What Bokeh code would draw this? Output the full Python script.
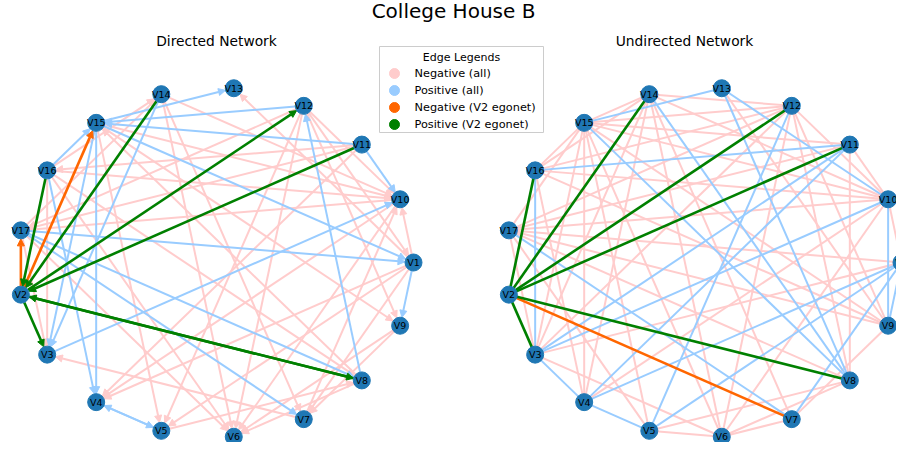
import math
from bokeh.plotting import figure
from bokeh.models import Range1d, Arrow, NormalHead, ColumnDataSource, Label
from bokeh.core.properties import value
from bokeh.embed import file_html
from bokeh.resources import INLINE

# ---------------- data ----------------
nodes = sorted([f"V{i}" for i in range(1, 18)])

# Directed network (source, target)
dir_positive = [("V15", "V13"), ("V12", "V15"), ("V11", "V15"), ("V11", "V10"), ("V16", "V15"),
                ("V15", "V4"), ("V15", "V3"), ("V14", "V3"), ("V16", "V4"), ("V17", "V1"),
                ("V15", "V1"), ("V17", "V8"), ("V17", "V7"), ("V3", "V10"), ("V8", "V12"),
                ("V1", "V9"), ("V4", "V5"), ("V5", "V4")]
dir_negative = [("V15", "V10"), ("V14", "V10"), ("V12", "V10"), ("V16", "V10"), ("V1", "V10"),
                ("V7", "V10"), ("V12", "V9"), ("V12", "V1"), ("V8", "V15"), ("V15", "V9"),
                ("V14", "V7"), ("V14", "V6"), ("V16", "V8"), ("V15", "V5"), ("V16", "V6"),
                ("V17", "V6"), ("V1", "V4"), ("V1", "V5"), ("V10", "V4"), ("V11", "V4"),
                ("V12", "V5"), ("V12", "V6"), ("V8", "V6"), ("V9", "V6"), ("V1", "V7"),
                ("V9", "V7"), ("V5", "V8"), ("V7", "V3"), ("V11", "V16"), ("V12", "V17"),
                ("V10", "V17"), ("V16", "V3"), ("V17", "V3"), ("V16", "V14"), ("V17", "V14"),
                ("V1", "V13"), ("V11", "V17"), ("V10", "V6")]
dir_ego_positive = [("V14", "V2"), ("V2", "V12"), ("V11", "V2"), ("V2", "V8"), ("V8", "V2"),
                    ("V2", "V3"), ("V16", "V2")]
dir_ego_negative = [("V2", "V15"), ("V2", "V17")]

# Undirected network
und_positive = [("V15", "V13"), ("V16", "V11"), ("V16", "V3"), ("V15", "V8"), ("V14", "V8"),
                ("V13", "V8"), ("V13", "V10"), ("V12", "V5"), ("V11", "V4"), ("V11", "V3"),
                ("V10", "V9"), ("V1", "V9"), ("V1", "V4"), ("V1", "V5"), ("V1", "V7"),
                ("V17", "V7"), ("V3", "V10"), ("V3", "V4"), ("V4", "V5")]
und_negative = [("V15", "V14"), ("V16", "V14"), ("V16", "V15"), ("V17", "V15"), ("V15", "V12"),
                ("V15", "V11"), ("V15", "V10"), ("V15", "V9"), ("V15", "V3"), ("V15", "V4"),
                ("V15", "V5"), ("V15", "V6"), ("V14", "V10"), ("V14", "V6"), ("V14", "V7"),
                ("V14", "V3"), ("V14", "V4"), ("V14", "V12"), ("V13", "V9"), ("V12", "V16"),
                ("V12", "V17"), ("V12", "V10"), ("V12", "V9"), ("V12", "V8"), ("V12", "V6"),
                ("V12", "V3"), ("V11", "V10"), ("V11", "V17"), ("V11", "V8"), ("V10", "V17"),
                ("V10", "V4"), ("V10", "V6"), ("V10", "V1"), ("V10", "V16"), ("V1", "V17"),
                ("V1", "V3"), ("V9", "V17"), ("V9", "V7"), ("V9", "V16"), ("V8", "V6"),
                ("V8", "V5"), ("V8", "V17"), ("V7", "V6"), ("V6", "V5"), ("V6", "V3"),
                ("V4", "V16"), ("V3", "V17"), ("V5", "V17")]
und_ego_positive = [("V2", "V16"), ("V2", "V14"), ("V2", "V12"), ("V2", "V11"), ("V2", "V3"), ("V2", "V8")]
und_ego_negative = [("V2", "V7")]

legend_labels = ["Negative (all)", "Positive (all)", "Negative (V2 egonet)", "Positive (V2 egonet)"]

# ---------------- style / layout ----------------
PINK, BLUE, ORANGE, GREEN, NODE = "#ffcccc", "#99ccff", "#ff6600", "#008000", "#1f77b4"
FONT = "DejaVu Sans"
W, H = 896, 442
ORG = 0.0
SX, SY = 198.0, 175.0          # pixels per layout unit
XC_L, XC_R, YC = 215.0, 703.0, 262.0
X0 = -(XC_L - ORG) / SX
X1 = X0 + W / SX
Y1 = (YC - ORG) / SY
Y0 = Y1 - H / SY
OFF_R = (XC_R - XC_L) / SX
NODE_R = 8.5


def px(x):
    return X0 + (x - ORG) / SX


def py(y):
    return Y1 - (y - ORG) / SY


pos = {n: (math.cos(2 * math.pi * i / len(nodes)), math.sin(2 * math.pi * i / len(nodes)))
       for i, n in enumerate(nodes)}


def segs(edges, off, shrink):
    d = dict(x0=[], y0=[], x1=[], y1=[])
    for s, t in edges:
        xs, ys = pos[s][0] * SX, pos[s][1] * SY
        xt, yt = pos[t][0] * SX, pos[t][1] * SY
        L = math.hypot(xt - xs, yt - ys)
        ux, uy = (xt - xs) / L, (yt - ys) / L
        d["x0"].append((xs + ux * shrink) / SX + off)
        d["y0"].append((ys + uy * shrink) / SY)
        d["x1"].append((xt - ux * shrink) / SX + off)
        d["y1"].append((yt - uy * shrink) / SY)
    return d


p = figure(width=W, height=H, x_range=Range1d(X0, X1), y_range=Range1d(Y0, Y1),
           output_backend="svg", toolbar_location=None, min_border=0)
p.axis.visible = False
p.xgrid.visible = False
p.ygrid.visible = False
p.outline_line_color = None

# directed edges as arrows
for edges, col, lw in [(dir_negative, PINK, 2), (dir_positive, BLUE, 2),
                       (dir_ego_negative, ORANGE, 2.6), (dir_ego_positive, GREEN, 2.6)]:
    src = ColumnDataSource(segs(edges, 0.0, NODE_R))
    arr = Arrow(end=NormalHead(size=7, fill_color=col, line_color=col, line_width=1),
                source=src, x_start="x0", y_start="y0", x_end="x1", y_end="y1",
                line_color=col, line_width=lw, level="underlay")
    p.add_layout(arr)

# undirected edges
for edges, col, lw in [(und_negative, PINK, 2), (und_positive, BLUE, 2),
                       (und_ego_negative, ORANGE, 2.6), (und_ego_positive, GREEN, 2.6)]:
    src = ColumnDataSource(segs(edges, OFF_R, 0.0))
    p.segment(x0="x0", y0="y0", x1="x1", y1="y1", source=src, line_color=col, line_width=lw)

# nodes + labels
for off in (0.0, OFF_R):
    nx = [pos[n][0] + off for n in nodes]
    ny = [pos[n][1] for n in nodes]
    p.scatter(nx, ny, size=17, fill_color=NODE, line_color=NODE)
    p.text(nx, ny, text=nodes, text_align="center", text_baseline="middle",
           text_font=value(FONT), text_font_size="9.5px", text_color="black")

# legend (manual, matplotlib style)
p.quad(left=[px(379)], right=[px(543)], top=[py(46)], bottom=[py(132)],
       fill_color="white", fill_alpha=0.85, line_color="#cccccc", line_width=1)
p.text([px(461)], [py(57)], text=["Edge Legends"], text_align="center", text_baseline="middle",
       text_font=value(FONT), text_font_size="11px", text_color="black")
ly = [73, 90, 107, 124]
p.scatter([px(394)] * 4, [py(v) for v in ly], size=10,
          fill_color=[PINK, BLUE, ORANGE, GREEN], line_color=[PINK, BLUE, ORANGE, GREEN])
p.text([px(414)] * 4, [py(v) for v in ly], text=legend_labels, text_align="left",
       text_baseline="middle", text_font=value(FONT), text_font_size="11.3px", text_color="black")

# titles
for txt, x, y, fs in [("College House B", 453, 10, "20px"), ("Directed Network", 216, 40, "13.8px"),
                      ("Undirected Network", 684, 40, "13.8px")]:
    p.add_layout(Label(x=x - ORG, y=H - (y - ORG), x_units="screen", y_units="screen", text=txt,
                       text_align="center", text_baseline="middle", text_font=FONT,
                       text_font_size=fs, text_color="black"))

open("out.html", "w").write(file_html(p, INLINE))
